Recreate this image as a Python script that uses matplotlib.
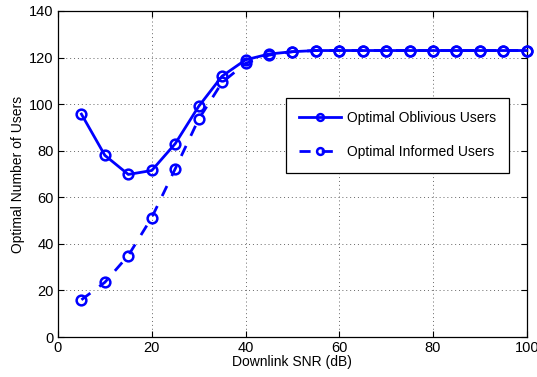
import matplotlib
matplotlib.use("Agg")
import matplotlib.pyplot as plt

snr = [5, 10, 15, 20, 25, 30, 35, 40, 45, 50, 55, 60, 65, 70, 75, 80, 85, 90, 95, 100]
oblivious = [95.7, 78, 69.8, 71.5, 83, 99, 112, 119, 121.5, 122.5, 123, 123, 123, 123, 123, 123, 123, 123, 123, 123]
informed = [16, 23.5, 35, 51.3, 72.2, 93.5, 109.3, 117.5, 121, 122.5, 123, 123, 123, 123, 123, 123, 123, 123, 123, 123]
xticks = [0, 20, 40, 60, 80, 100]
yticks = [0, 20, 40, 60, 80, 100, 120, 140]

plt.rcParams['font.family'] = ['Liberation Sans', 'DejaVu Sans']

fig = plt.figure(figsize=(5.37, 3.77), dpi=100)
ax = fig.add_axes([0.108, 0.106, 0.873, 0.865])

ax.plot(snr, oblivious, '-o', color='#0000ff', lw=2.0, ms=7, mew=1.8,
        mfc='none', label='Optimal Oblivious Users', clip_on=False, zorder=3)
ax.plot(snr, informed, '--o', color='#0000ff', lw=2.0, ms=7, mew=1.8,
        mfc='none', label='Optimal Informed Users', dashes=(4, 4), clip_on=False, zorder=3)

ax.set_xlim(0, 100)
ax.set_ylim(0, 140)
ax.set_xticks(xticks)
ax.set_yticks(yticks)
ax.tick_params(direction='in', top=True, right=True, labelsize=10.5, length=4, width=0.8, pad=3)
ax.grid(True, linestyle=(0, (1, 3)), color='#666666', linewidth=0.7)
for s in ax.spines.values():
    s.set_linewidth(0.9)

ax.set_xlabel('Downlink SNR (dB)', fontsize=10, labelpad=0)
ax.set_ylabel('Optimal Number of Users', fontsize=10, labelpad=3)

leg = ax.legend(loc='upper left', bbox_to_anchor=(0.486, 0.733),
                fontsize=10, fancybox=False, framealpha=1,
                edgecolor='black', borderpad=0.95, labelspacing=1.45,
                handlelength=3.0, handletextpad=0.45, markerscale=0.7,
                borderaxespad=0)
leg.get_frame().set_linewidth(0.9)

fig.savefig('out.png', dpi=100)
